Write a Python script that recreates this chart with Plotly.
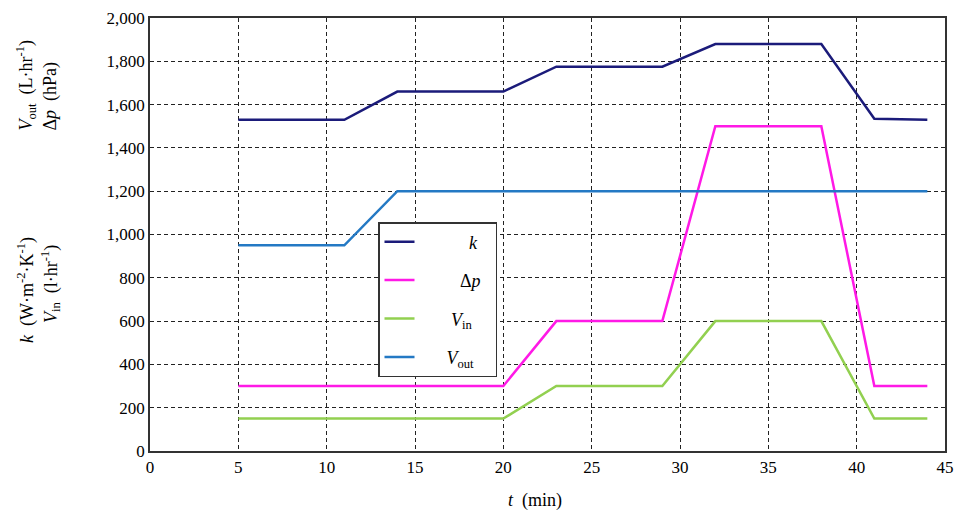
import plotly.graph_objects as go

# Data
k_t = [5, 11, 14, 20, 23, 29, 32, 38, 41, 44]
k_v = [1530, 1530, 1660, 1660, 1775, 1775, 1880, 1880, 1535, 1530]
dp_t = [5, 20, 23, 29, 32, 38, 41, 44]
dp_v = [300, 300, 600, 600, 1500, 1500, 300, 300]
vin_t = [5, 20, 23, 29, 32, 38, 41, 44]
vin_v = [150, 150, 300, 300, 600, 600, 150, 150]
vout_t = [5, 11, 14, 44]
vout_v = [950, 950, 1200, 1200]

x_ticks = list(range(0, 50, 5))
y_ticks = list(range(0, 2200, 200))

FONT = "Liberation Serif"
NB = "&nbsp;"

fig = go.Figure()
series = [
    (NB * 11 + "<i>k</i>" + NB * 3, k_t, k_v, "#1B1B7A"),
    (NB * 9 + "Δ<i>p</i>", dp_t, dp_v, "#FF19E6"),
    (NB * 7 + "<i>V</i><sub>in</sub>", vin_t, vin_v, "#92D050"),
    (NB * 6 + "<i>V</i><sub>out</sub>", vout_t, vout_v, "#2479C4"),
]
for i, (name, t, v, c) in enumerate(series):
    fig.add_trace(go.Scatter(x=t, y=v, mode="lines", name=name,
                             line=dict(color=c, width=2.5),
                             legendgroup=f"g{i}"))

L, R, T, B = 150, 20, 18, 67
W, H = 965, 518
pw, ph = W - L - R, H - T - B

def px2x(px):
    return (px - L) / pw

def py2y(py):
    return (T + ph - py) / ph

axis_common = dict(
    showgrid=True, gridcolor="#222222", griddash="4px,3px", gridwidth=1,
    showline=True, linecolor="#333333", linewidth=1.5, mirror=True,
    zeroline=False, ticks="", automargin=False,
    tickfont=dict(family=FONT, size=17, color="black"),
)
fig.update_xaxes(range=[0, 45], tickvals=x_ticks, **axis_common)
fig.update_yaxes(range=[0, 2000], tickvals=y_ticks, tickformat=",", **axis_common)

annots = [
    dict(text="<i>t</i>  (min)", x=px2x(535), y=py2y(501), xanchor="center", yanchor="middle",
         textangle=0),
    dict(text="<i>V</i><sub>out</sub>  (L·hr<sup>-1</sup>)", x=px2x(26), y=py2y(133),
         xanchor="center", yanchor="bottom", textangle=-90),
    dict(text="Δ<i>p</i>  (hPa)", x=px2x(50), y=py2y(133),
         xanchor="center", yanchor="bottom", textangle=-90),
    dict(text="<i>k</i>  (W·m<sup>-2</sup>·K<sup>-1</sup>)", x=px2x(26), y=py2y(290),
         xanchor="center", yanchor="middle", textangle=-90),
    dict(text="<i>V</i><sub>in</sub>  (l·hr<sup>-1</sup>)", x=px2x(50), y=py2y(284),
         xanchor="center", yanchor="middle", textangle=-90),
]
for a in annots:
    fig.add_annotation(xref="paper", yref="paper", showarrow=False,
                       font=dict(family=FONT, size=18, color="black"), **a)

fig.update_layout(
    width=W, height=H,
    margin=dict(l=L, r=R, t=T, b=B, autoexpand=False),
    plot_bgcolor="white", paper_bgcolor="white",
    font=dict(family=FONT, color="black"),
    legend=dict(x=px2x(378), y=py2y(222), xanchor="left", yanchor="top",
                bgcolor="white", bordercolor="#333333", borderwidth=1.5,
                font=dict(family=FONT, size=18, color="black"),
                traceorder="grouped", tracegroupgap=12),
    showlegend=True,
)

fig.write_html("out.html", config={"displayModeBar": False},
               post_script="document.body.style.margin='0px';document.body.style.overflow='hidden';")
